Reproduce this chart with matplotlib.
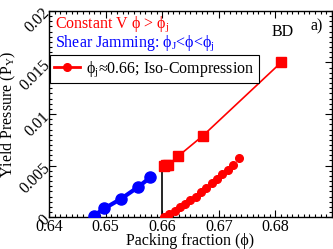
import matplotlib
matplotlib.use('Agg')
import matplotlib.pyplot as plt
from matplotlib.ticker import MultipleLocator

# shear jamming branch (blue)
phi_sj = [0.6479, 0.6498, 0.6528, 0.6557, 0.6579]
p_sj = [0.00013, 0.00084, 0.0018, 0.0029, 0.00385]

# constant volume, phi > phi_j (red squares)
phi_cv = [0.6603, 0.6607, 0.6611, 0.6628, 0.6672, 0.6810]
p_cv = [0.0050, 0.0051, 0.0051, 0.0059, 0.0079, 0.0150]

# iso-compression (red dots)
phi_iso = [0.6603, 0.6612, 0.6622, 0.6631, 0.6641, 0.6650, 0.6659, 0.6669,
           0.6678, 0.6688, 0.6697, 0.6706, 0.6716, 0.6725, 0.6735]
p_iso = [0.0, 0.00026, 0.00061, 0.00094, 0.00126, 0.00165, 0.00197, 0.0024,
         0.00285, 0.00327, 0.00369, 0.00414, 0.00456, 0.00505, 0.0057]

# vertical jump at phi_j
phi_jump = [0.660, 0.660]
p_jump = [0.0, 0.0051]

plt.rcParams.update({
    'font.family': ['Liberation Serif', 'DejaVu Serif'],
    'mathtext.fontset': 'custom',
    'mathtext.rm': 'Liberation Serif',
    'mathtext.it': 'Liberation Serif',
    'font.size': 11.5,
})

fig = plt.figure(figsize=(3.33, 2.49), dpi=100)
ax = fig.add_axes([0.147, 0.128, 0.85, 0.828])

ax.plot(phi_jump, p_jump, color='black', lw=1.2, zorder=2)
ax.plot(phi_sj, p_sj, color='blue', lw=3, marker='o', ms=8, zorder=3)
ax.plot(phi_cv, p_cv, color='red', lw=1.2, marker='s', ms=6.5, zorder=3)
ax.plot(phi_iso, p_iso, color='red', lw=0, marker='o', ms=5.5, zorder=3,
        label=r'ϕ$_\mathrm{j}$≈0.66; Iso-Compression')

ax.set_xlim(0.64, 0.69)
ax.set_ylim(0, 0.02)
ax.set_xticks([0.64, 0.65, 0.66, 0.67, 0.68])
ax.set_yticks([0, 0.005, 0.01, 0.015, 0.02])
ax.set_xticklabels(['0.64', '0.65', '0.66', '0.67', '0.68'])
ax.set_yticklabels(['0', '0.005', '0.01', '0.015', '0.02'], rotation=45,
                   va='center', ha='right', rotation_mode='anchor')
ax.xaxis.set_minor_locator(MultipleLocator(0.001))
ax.yaxis.set_minor_locator(MultipleLocator(0.0005))
ax.tick_params(which='both', direction='in', top=True, right=True,
               labelsize=11.5, width=0.8)
ax.tick_params(which='major', length=5, pad=1)
ax.tick_params(which='minor', length=2.5)
for s in ax.spines.values():
    s.set_linewidth(1.0)

ax.set_xlabel('Packing fraction (ϕ)', labelpad=-1, fontsize=11.5)
ax.set_ylabel(r'Yield Pressure (P$_\mathrm{Y}$)', labelpad=-1, fontsize=11.5)

ax.text(0.02, 0.935, r'Constant V ϕ > ϕ$_\mathrm{j}$', color='red',
        transform=ax.transAxes, va='center')
ax.text(0.02, 0.845, r'Shear Jamming: ϕ$_\mathrm{J}$<ϕ<ϕ$_\mathrm{j}$',
        color='blue', transform=ax.transAxes, va='center')
ax.text(0.827, 0.9, 'BD', transform=ax.transAxes, ha='center', va='center')
ax.text(0.947, 0.925, 'a)', transform=ax.transAxes, ha='center', va='center')

leg = ax.legend(loc='upper left', bbox_to_anchor=(0.005, 0.785), frameon=True,
                fancybox=False, edgecolor='black', framealpha=1,
                handlelength=1.6, handletextpad=0.4, borderpad=0.25,
                borderaxespad=0, fontsize=11.5)
leg.get_frame().set_linewidth(0.8)
h = leg.legend_handles[0]
h.set_linestyle('-')
h.set_linewidth(2)

fig.savefig('out.png', dpi=100)
